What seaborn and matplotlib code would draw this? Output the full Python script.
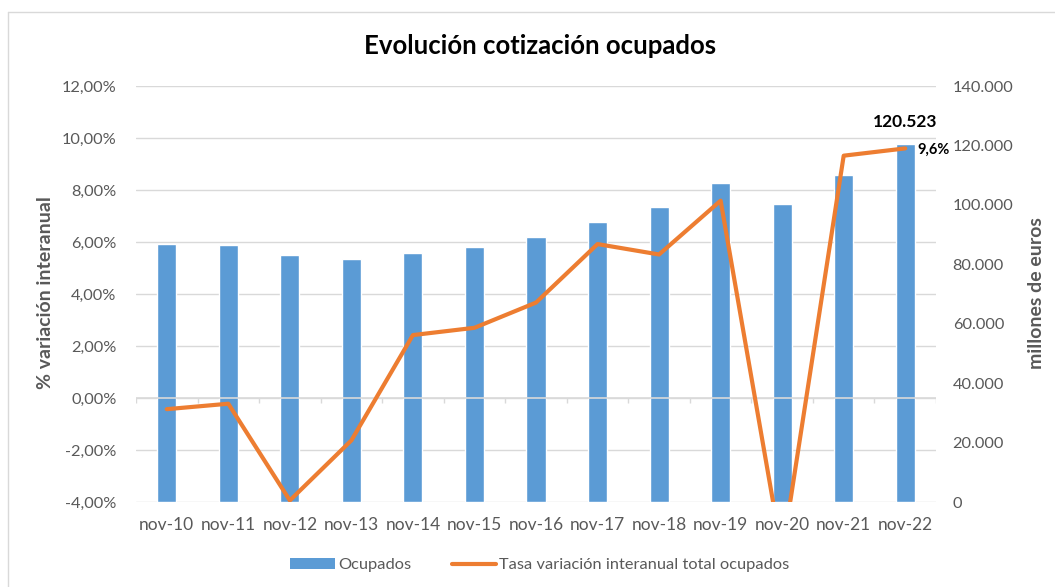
import matplotlib
matplotlib.use("Agg")
import matplotlib.pyplot as plt
import seaborn as sns
import numpy as np
from matplotlib.lines import Line2D
from matplotlib.patches import Patch

categorias = ["nov-10", "nov-11", "nov-12", "nov-13", "nov-14", "nov-15", "nov-16",
              "nov-17", "nov-18", "nov-19", "nov-20", "nov-21", "nov-22"]
ocupados = [86785, 86450, 83080, 81620, 83750, 85660, 89140,
            94190, 99360, 107220, 100370, 109910, 120523]
tasa = [-0.43, -0.22, -3.94, -1.63, 2.42, 2.70, 3.67,
        5.92, 5.52, 7.59, -6.0, 9.32, 9.6]
ticks_pct = [-4, -2, 0, 2, 4, 6, 8, 10, 12]
ticks_eur = [0, 20000, 40000, 60000, 80000, 100000, 120000, 140000]

sns.set_theme(style="white")
plt.rcParams['font.family'] = ['Lato', 'DejaVu Sans']

BAR = "#5B9BD5"
LINE = "#ED7D31"
GRID = "#D9D9D9"
TXT = "#595959"

W, H = 1055, 587
fig = plt.figure(figsize=(W / 100, H / 100), dpi=100)
L, R, T, B = 136, 936, 86, 502
ax = fig.add_axes([L / W, 1 - B / H, (R - L) / W, (B - T) / H])
ax2 = ax.twinx()
ax3 = ax.twinx()
n = len(categorias)

# primary: % axis with grid and category labels
ax.set_ylim(ticks_pct[0], ticks_pct[-1])
ax.set_yticks(ticks_pct)
ax.set_yticklabels([f"{t:.2f}%".replace(".", ",") for t in ticks_pct])
ax.grid(axis="y", color=GRID, lw=1)
ax.grid(axis="x", visible=False)
ax.tick_params(axis="y", length=0, pad=14, labelsize=11.8, labelcolor=TXT)

# bars on the right axis
sns.barplot(x=categorias, y=ocupados, ax=ax2, color=BAR, saturation=1, width=0.31, zorder=2)
ax2.set_ylim(ticks_eur[0], ticks_eur[-1])
ax2.set_yticks(ticks_eur)
ax2.set_yticklabels([f"{t:,}".replace(",", ".") for t in ticks_eur])
ax2.tick_params(axis="y", length=0, pad=12, labelsize=11.8, labelcolor=TXT)
ax2.set_ylabel("")

# line on top, same scale as %
ax3.set_ylim(ticks_pct[0], ticks_pct[-1])
ax3.axhline(0, color=GRID, lw=1.2, zorder=1)
ax3.vlines(np.arange(n + 1) - 0.5, -0.2, 0, color=GRID, lw=1, zorder=1)
sns.pointplot(x=categorias, y=tasa, ax=ax3, color=LINE, markers="", linewidth=3, zorder=3)
ax3.set_ylim(ticks_pct[0], ticks_pct[-1])
ax3.set_yticks([])
ax3.set_ylabel("")

for a in (ax, ax2, ax3):
    for s in a.spines.values():
        s.set_visible(False)

ax.set_xlim(-0.5, n - 0.5)
ax.xaxis.set_visible(True)
ax.set_xticks(range(n))
ax.set_xticklabels(categorias)
ax.tick_params(axis="x", length=0, pad=11, labelsize=12.5, labelcolor=TXT, labelbottom=True)

# data labels
ax2.annotate(f"{ocupados[-1]:,}".replace(",", "."), xy=(n - 1, ocupados[-1]), xytext=(0, 10),
             textcoords="offset points", ha="center", va="bottom",
             fontsize=12.5, fontweight="bold", color="black")
ax3.annotate(f"{tasa[-1]:.1f}%".replace(".", ","), xy=(n - 1, tasa[-1]), xytext=(9, -1),
             textcoords="offset points", ha="left", va="center",
             fontsize=10.5, fontweight="bold", color="black")

# titles
fig.text(540 / W, 1 - 46 / H, "Evolución cotización ocupados", ha="center", va="center",
         fontsize=18.5, fontweight="bold", color="black")
fig.text(46 / W, 1 - 293 / H, "% variación interanual", ha="center", va="center",
         rotation=90, fontsize=14, fontweight="bold", color=TXT)
fig.text(1036 / W, 1 - 293 / H, "millones de euros", ha="center", va="center",
         rotation=90, fontsize=14, fontweight="bold", color=TXT)

# legend
handles = [Patch(facecolor=BAR, edgecolor="none"),
           Line2D([0], [0], color=LINE, lw=3)]
fig.legend(handles, ["Ocupados", "Tasa variación interanual total ocupados"],
           loc="center", bbox_to_anchor=(540 / W, 1 - 565 / H), ncol=2, frameon=False,
           fontsize=11.8, handlelength=2.7, handletextpad=0.2, columnspacing=2.5,
           labelcolor=TXT)

# outer frame
fig.add_artist(Line2D([8 / W, 1], [1 - 11.5 / H] * 2, transform=fig.transFigure, color=GRID, lw=1))
fig.add_artist(Line2D([8 / W] * 2, [0, 1 - 11.5 / H], transform=fig.transFigure, color=GRID, lw=1))

fig.savefig("out.png", dpi=100)
